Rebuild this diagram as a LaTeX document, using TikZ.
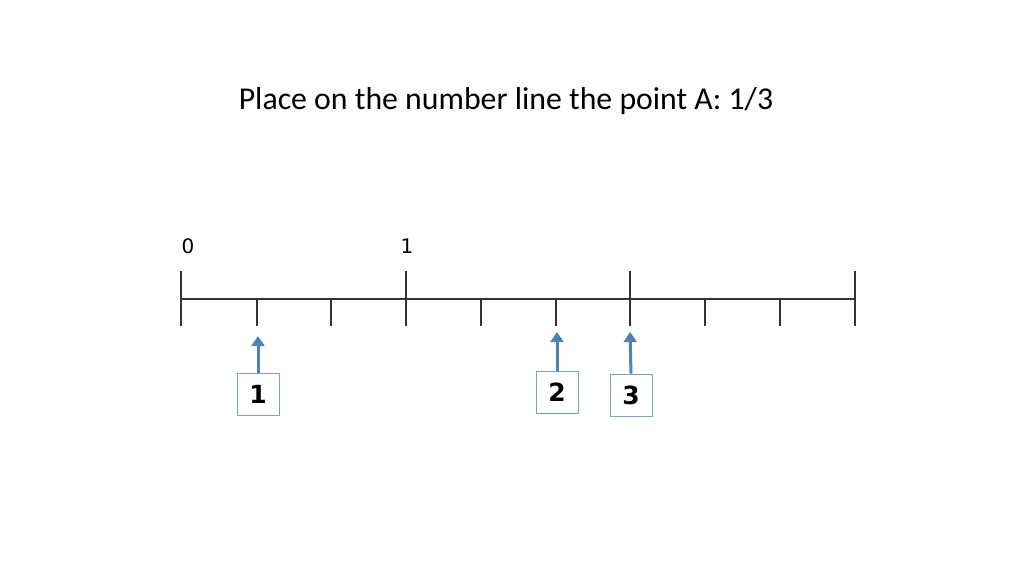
\documentclass[tikz,border=0pt]{standalone}
\usepackage{fontspec}
\setmainfont{Carlito}
\newfontfamily\digitfont{DejaVu Sans}
\usepackage{tikz}
\usetikzlibrary{arrows.meta}
\definecolor{arrowblue}{RGB}{79,129,189}
\definecolor{boxblue}{RGB}{124,160,205}
\tikzstyle{box} = [rectangle, draw=boxblue, line width=0.8pt, fill=white, text centered, minimum width=42pt, minimum height=42pt, font=\digitfont\fontsize{25}{28}\selectfont\bfseries]
\tikzstyle{arrow} = [draw=arrowblue, line width=3pt, -{Triangle[length=10pt,width=13pt]}]
\tikzstyle{tick} = [line width=1.3pt, color=black!80]
\tikzstyle{ticklabel} = [font=\digitfont\fontsize{20}{24}\selectfont]

\begin{document}
\begin{tikzpicture}[x=1pt, y=-1pt]
  \useasboundingbox (0,0) rectangle (1024,576);
  \node (title) at (506,101) {\fontsize{31.8}{36}\selectfont Place on the number line the point A: 1/3};

  % number line
  \draw [tick] (181,299) -- (855,299);
  \foreach \x in {181,406,630,855}
    \draw [tick] (\x,271) -- (\x,326);
  \foreach \x in {257,331,481,556,705,780}
    \draw [tick] (\x,299) -- (\x,326);
  \node (zero) [ticklabel] at (188,246) {0};
  \node (one) [ticklabel] at (407,246) {1};

  \node (b1) [box] at (258,394) {1};
  \node (b2) [box] at (557,392) {2};
  \node (b3) [box] at (631,395) {3};
  \coordinate (p1) at (258,336);
  \coordinate (p2) at (557,332);
  \coordinate (p3) at (630,332);

  \draw [arrow] (b1.north) -- (p1);
  \draw [arrow] (b2.north) -- (p2);
  \draw [arrow] (b3.north) -- (p3);
\end{tikzpicture}
\end{document}
